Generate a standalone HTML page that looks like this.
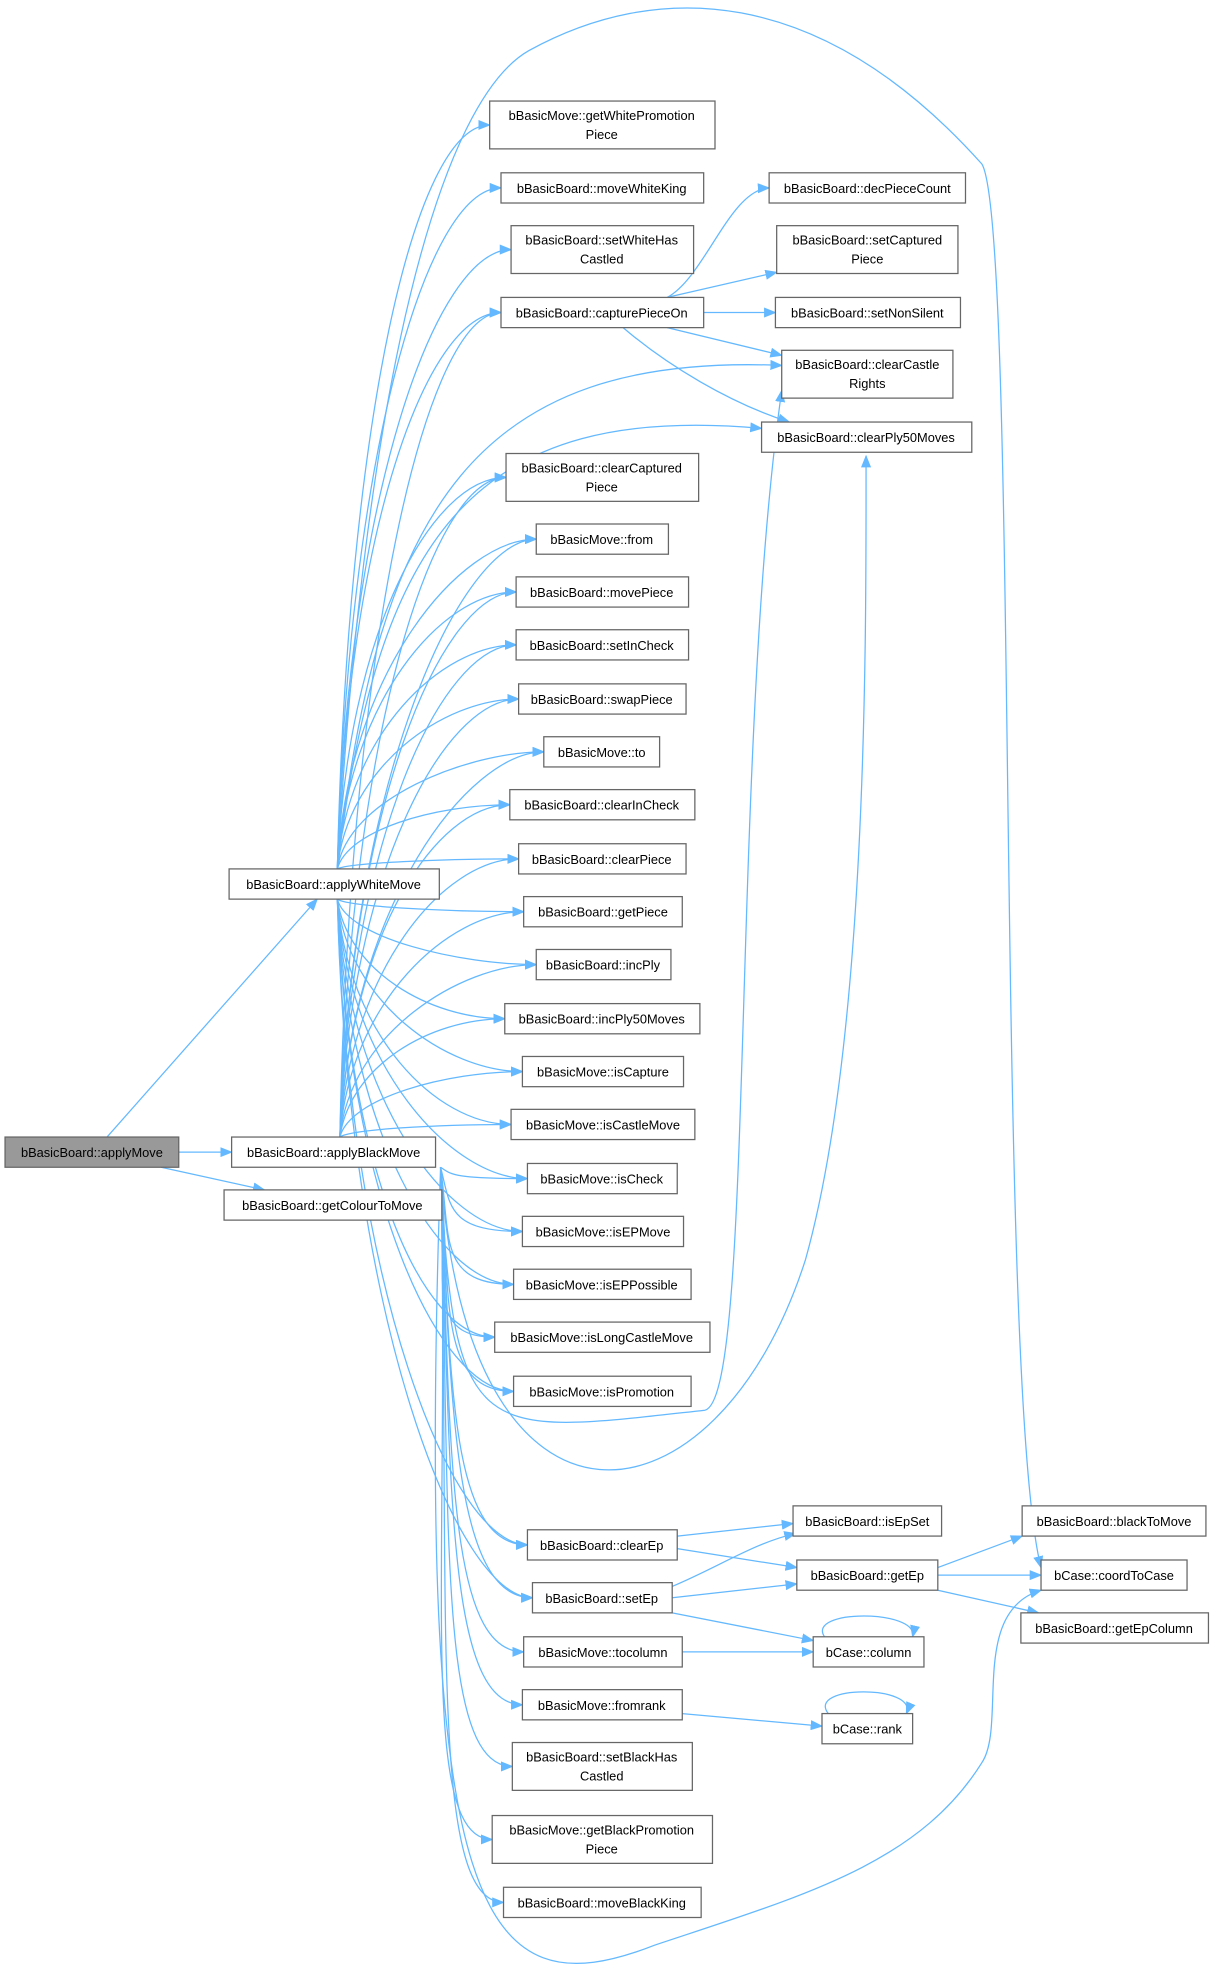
<!DOCTYPE html>
<html><head><meta charset="utf-8"><style>
html,body{margin:0;padding:0;background:#fff;}
svg{display:block}
text{font-family:"Liberation Sans",sans-serif;font-size:10.2px;fill:#000;text-anchor:middle}
rect{fill:#fff;stroke:#666;stroke-width:1}
.e{fill:none;stroke:#63b8ff;stroke-width:1}
</style></head><body>
<svg width="1216" height="1977" viewBox="0 0 966 1570" xmlns="http://www.w3.org/2000/svg">
<defs><marker id="a" markerWidth="10" markerHeight="8" refX="9" refY="4" orient="auto" markerUnits="userSpaceOnUse"><path d="M0,0 L10,4 L0,8 z" fill="#63b8ff"/></marker></defs>
<g id="edges"></g>
<g id="nodes">
<rect x="4" y="903" width="138" height="24" style="fill:#999"/><text x="73" y="919">bBasicBoard::applyMove</text>
<rect x="182" y="690" width="167" height="24"/><text x="265" y="706">bBasicBoard::applyWhiteMove</text>
<rect x="184" y="903" width="162" height="24"/><text x="265" y="919">bBasicBoard::applyBlackMove</text>
<rect x="178" y="945" width="173" height="24"/><text x="264" y="961">bBasicBoard::getColourToMove</text>
<rect x="389" y="80" width="179" height="38"/><text x="478" y="95">bBasicMove::getWhitePromotion</text><text x="478" y="110">Piece</text>
<rect x="398" y="137" width="161" height="24"/><text x="478" y="153">bBasicBoard::moveWhiteKing</text>
<rect x="406" y="179" width="145" height="38"/><text x="478" y="194">bBasicBoard::setWhiteHas</text><text x="478" y="209">Castled</text>
<rect x="398" y="236" width="161" height="24"/><text x="478" y="252">bBasicBoard::capturePieceOn</text>
<rect x="402" y="360" width="153" height="38"/><text x="478" y="375">bBasicBoard::clearCaptured</text><text x="478" y="390">Piece</text>
<rect x="426" y="416" width="105" height="24"/><text x="478" y="432">bBasicMove::from</text>
<rect x="410" y="458" width="137" height="24"/><text x="478" y="474">bBasicBoard::movePiece</text>
<rect x="410" y="500" width="137" height="24"/><text x="478" y="516">bBasicBoard::setInCheck</text>
<rect x="412" y="543" width="133" height="24"/><text x="478" y="559">bBasicBoard::swapPiece</text>
<rect x="432" y="585" width="92" height="24"/><text x="478" y="601">bBasicMove::to</text>
<rect x="405" y="627" width="147" height="24"/><text x="478" y="643">bBasicBoard::clearInCheck</text>
<rect x="412" y="670" width="133" height="24"/><text x="478" y="686">bBasicBoard::clearPiece</text>
<rect x="416" y="712" width="126" height="24"/><text x="479" y="728">bBasicBoard::getPiece</text>
<rect x="426" y="754" width="107" height="24"/><text x="479" y="770">bBasicBoard::incPly</text>
<rect x="401" y="797" width="155" height="24"/><text x="478" y="813">bBasicBoard::incPly50Moves</text>
<rect x="415" y="839" width="128" height="24"/><text x="479" y="855">bBasicMove::isCapture</text>
<rect x="406" y="881" width="146" height="24"/><text x="479" y="897">bBasicMove::isCastleMove</text>
<rect x="419" y="924" width="119" height="24"/><text x="478" y="940">bBasicMove::isCheck</text>
<rect x="415" y="966" width="128" height="24"/><text x="479" y="982">bBasicMove::isEPMove</text>
<rect x="408" y="1008" width="141" height="24"/><text x="478" y="1024">bBasicMove::isEPPossible</text>
<rect x="393" y="1050" width="171" height="24"/><text x="478" y="1066">bBasicMove::isLongCastleMove</text>
<rect x="408" y="1093" width="141" height="24"/><text x="478" y="1109">bBasicMove::isPromotion</text>
<rect x="419" y="1215" width="119" height="24"/><text x="478" y="1231">bBasicBoard::clearEp</text>
<rect x="423" y="1257" width="111" height="24"/><text x="478" y="1273">bBasicBoard::setEp</text>
<rect x="416" y="1300" width="126" height="24"/><text x="479" y="1316">bBasicMove::tocolumn</text>
<rect x="415" y="1342" width="127" height="24"/><text x="478" y="1358">bBasicMove::fromrank</text>
<rect x="407" y="1384" width="143" height="38"/><text x="478" y="1399">bBasicBoard::setBlackHas</text><text x="478" y="1414">Castled</text>
<rect x="391" y="1442" width="175" height="38"/><text x="478" y="1457">bBasicMove::getBlackPromotion</text><text x="478" y="1472">Piece</text>
<rect x="400" y="1499" width="157" height="24"/><text x="478" y="1515">bBasicBoard::moveBlackKing</text>
<rect x="611" y="137" width="156" height="24"/><text x="689" y="153">bBasicBoard::decPieceCount</text>
<rect x="617" y="179" width="144" height="38"/><text x="689" y="194">bBasicBoard::setCaptured</text><text x="689" y="209">Piece</text>
<rect x="616" y="236" width="147" height="24"/><text x="689" y="252">bBasicBoard::setNonSilent</text>
<rect x="621" y="278" width="136" height="38"/><text x="689" y="293">bBasicBoard::clearCastle</text><text x="689" y="308">Rights</text>
<rect x="605" y="335" width="167" height="24"/><text x="688" y="351">bBasicBoard::clearPly50Moves</text>
<rect x="630" y="1196" width="118" height="24"/><text x="689" y="1212">bBasicBoard::isEpSet</text>
<rect x="633" y="1239" width="112" height="24"/><text x="689" y="1255">bBasicBoard::getEp</text>
<rect x="646" y="1300" width="88" height="24"/><text x="690" y="1316">bCase::column</text>
<rect x="653" y="1361" width="72" height="24"/><text x="689" y="1377">bCase::rank</text>
<rect x="812" y="1196" width="146" height="24"/><text x="885" y="1212">bBasicBoard::blackToMove</text>
<rect x="827" y="1239" width="116" height="24"/><text x="885" y="1255">bCase::coordToCase</text>
<rect x="811" y="1281" width="149" height="24"/><text x="885" y="1297">bBasicBoard::getEpColumn</text>
</g>
</svg>
<script>
var g=document.getElementById('edges'),NS='http://www.w3.org/2000/svg';
function p(d){var e=document.createElementNS(NS,'path');e.setAttribute('d',d);e.setAttribute('class','e');e.setAttribute('marker-end','url(#a)');g.appendChild(e);}
function c(sx,sy,tx,ty){var dy=ty-sy;p('M'+sx+','+sy+' C'+(sx+8)+','+(sy+dy*0.6)+' '+(tx-60)+','+ty+' '+tx+','+ty);}
p('M85,903 L252,714');p('M141,915 L184,915');p('M128,927 L210,945');
var T=[[389,99],[398,149],[406,198],[398,248],[402,379],[426,428],[410,470],[410,512],[412,555],[432,597],[405,639],[412,682],[416,724],[426,766],[401,809],[415,851],[406,893],[419,936],[415,978],[408,1020],[393,1062],[408,1105],[419,1227],[423,1269],[416,1312],[415,1354],[407,1403],[391,1461],[400,1511]];
var W=[0,1,2,3,4,5,6,7,8,9,10,11,12,13,14,15,16,17,18,19,20,21,22,23];
W.forEach(function(i){var t=T[i];var sy=t[1]<702?690:714;c(268,sy,t[0],t[1]);});
T.forEach(function(t,i){if(i<3)return;var sy=t[1]<915?903:927;c(t[1]<915?270:350,sy,t[0],t[1]);});
p('M268,690 C300,400 380,280 621,290');p('M268,690 C300,420 380,320 605,340');
p('M350,927 C360,1150 380,1140 560,1120 C600,1110 580,600 621,310');
p('M350,927 C370,1250 570,1220 640,1000 C690,820 688,500 688,362');
p('M268,690 C290,300 350,80 420,40 C520,-15 650,-15 780,130 C810,180 790,1100 827,1245');
p('M350,927 C330,1520 380,1600 520,1545 C640,1505 730,1480 780,1400 C800,1370 770,1280 827,1263');
p('M530,236 C560,220 580,150 611,149');p('M530,236 L617,216');p('M559,248 L616,248');p('M530,260 L621,282');p('M495,260 C530,290 580,320 627,335');
p('M538,1220 L630,1210');p('M538,1230 L633,1245');p('M534,1260 C570,1245 600,1225 632,1218');p('M534,1269 L633,1258');p('M534,1281 L646,1303');p('M542,1312 L646,1312');p('M542,1361 L653,1371');
p('M745,1245 L812,1220');p('M745,1251 L827,1251');p('M745,1263 L825,1281');
p('M655,1300 C640,1278 730,1278 725,1300');p('M658,1361 C640,1338 730,1338 720,1361');
</script>
</body></html>
